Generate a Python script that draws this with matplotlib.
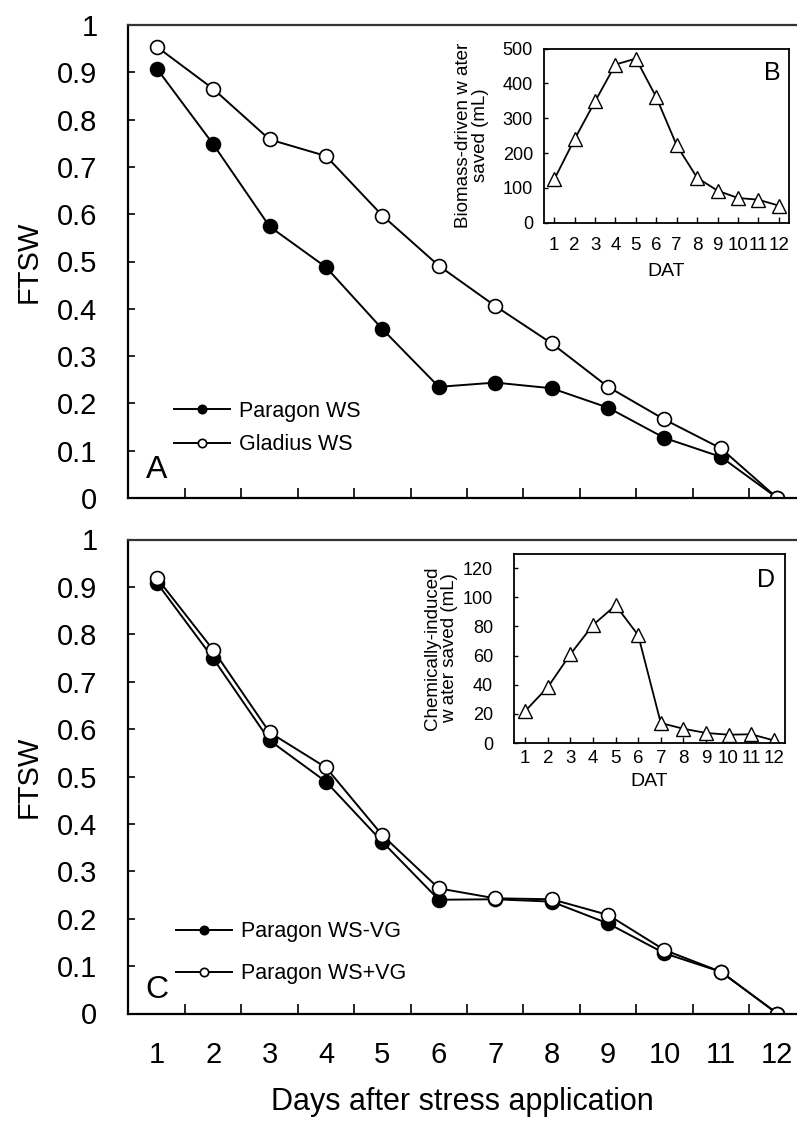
import matplotlib
matplotlib.use('Agg')
import matplotlib.pyplot as plt

plt.rcParams['font.family'] = ['Liberation Sans', 'DejaVu Sans']

# data
days = [1, 2, 3, 4, 5, 6, 7, 8, 9, 10, 11, 12]
paragon_ws = [0.908, 0.748, 0.574, 0.488, 0.357, 0.235, 0.244, 0.232, 0.191, 0.127, 0.087, 0.0]
gladius_ws = [0.954, 0.865, 0.758, 0.723, 0.597, 0.491, 0.406, 0.327, 0.235, 0.166, 0.105, 0.0]
paragon_ws_minus_vg = [0.909, 0.749, 0.576, 0.489, 0.362, 0.240, 0.241, 0.236, 0.190, 0.127, 0.088, 0.0]
paragon_ws_plus_vg = [0.919, 0.767, 0.593, 0.519, 0.376, 0.264, 0.243, 0.241, 0.208, 0.134, 0.088, 0.0]
biomass_saved = [124, 240, 348, 454, 471, 360, 222, 129, 92, 71, 66, 49]
chem_saved = [22, 38.4, 61, 81, 94.5, 74, 13.7, 9.8, 6.9, 5.7, 6, 1.8]

W, H = 797, 1122
fig = plt.figure(figsize=(W / 100, H / 100), dpi=100)


def main_panel(top, bottom, s1, s2, lab1, lab2, letter, letter_y, leg_top, leg_x, spacing, show_x):
    ax = fig.add_axes([128 / W, 1 - bottom / H, (W - 128) / W, (bottom - top) / H])
    ax.plot(days, s1, '-o', color='black', mfc='black', mec='black', ms=10, lw=1.4, mew=1.2, label=lab1)
    ax.plot(days, s2, '-o', color='black', mfc='white', mec='black', ms=10, lw=1.4, mew=1.2, label=lab2)
    ax.set_xlim(0.49, 12.35)
    ax.set_ylim(0, 1)
    ax.spines['right'].set_visible(False)
    for sp in ['left', 'bottom', 'top']:
        ax.spines[sp].set_linewidth(1.6)
    ax.spines['top'].set_color('#333333')
    ax.set_yticks([0, 0.1, 0.2, 0.3, 0.4, 0.5, 0.6, 0.7, 0.8, 0.9, 1])
    ax.set_yticklabels(['0', '0.1', '0.2', '0.3', '0.4', '0.5', '0.6', '0.7', '0.8', '0.9', '1'])
    ax.tick_params(axis='y', direction='in', length=5, width=1.2, labelsize=21, pad=22)
    ax.set_xticks([d + 0.5 for d in days[:-1]])
    ax.set_xticklabels([])
    ax.tick_params(axis='x', which='major', direction='in', length=7, width=1.2)
    if show_x:
        ax.set_xticks(days, minor=True)
        ax.set_xticklabels([str(d) for d in days], minor=True)
        ax.tick_params(axis='x', which='minor', length=0, labelsize=21, pad=20)
        ax.set_xlabel('Days after stress application', fontsize=22, labelpad=13)
    ax.set_ylabel('FTSW', fontsize=21)
    ax.yaxis.set_label_coords(-0.127, 0.5)
    ax.text(1.0, letter_y, letter, fontsize=23, ha='center', va='center')
    ax.legend(loc='upper left', bbox_to_anchor=(leg_x, leg_top), frameon=False, fontsize=15.5,
              handlelength=2.6, handletextpad=0.4, borderpad=0, borderaxespad=0,
              labelspacing=spacing, markerscale=0.6)
    return ax


main_panel(25, 498, paragon_ws, gladius_ws, 'Paragon WS', 'Gladius WS', 'A', 0.059,
           0.206, 0.0688, 0.6, False)
main_panel(539.5, 1013.5, paragon_ws_minus_vg, paragon_ws_plus_vg,
           'Paragon WS-VG', 'Paragon WS+VG', 'C', 0.05, 0.195, 0.0717, 0.98, True)


def inset(left, right, top, bottom, vals, ymax, yticks, ylabel, letter, lab_x, xpad, ypad, dat_y):
    ax = fig.add_axes([left / W, 1 - bottom / H, (right - left) / W, (bottom - top) / H])
    ax.plot(days, vals, '-^', color='black', mfc='white', mec='black', ms=9.5, lw=1.3, mew=1.0)
    ax.set_xlim(0.5, 12.5)
    ax.set_ylim(0, ymax)
    ax.set_xticks(days)
    ax.set_yticks(yticks)
    ax.tick_params(axis='x', direction='in', length=4, width=1.0, labelsize=13.5, pad=xpad)
    ax.tick_params(axis='y', direction='in', length=3, width=1.0, labelsize=13, pad=ypad)
    for sp in ax.spines.values():
        sp.set_linewidth(1.3)
    ax.set_ylabel(ylabel, fontsize=13.5, linespacing=1.0)
    ax.yaxis.set_label_coords(lab_x, 0.5)
    ax.set_xlabel('DAT', fontsize=14)
    ax.xaxis.set_label_coords(0.5, dat_y)
    ax.text(0.93, 0.86, letter, fontsize=18, ha='center', va='center', transform=ax.transAxes)
    return ax


inset(544, 789, 48.5, 222.7, biomass_saved, 500, [0, 100, 200, 300, 400, 500],
      'Biomass-driven w ater\nsaved (mL)', 'B', -0.224, 10, 8, -0.23)
inset(514, 785, 553.6, 743, chem_saved, 130, [0, 20, 40, 60, 80, 100, 120],
      'Chemically-induced\nw ater saved (mL)', 'D', -0.207, 5, 15, -0.16)

plt.savefig('out.png', dpi=100)
